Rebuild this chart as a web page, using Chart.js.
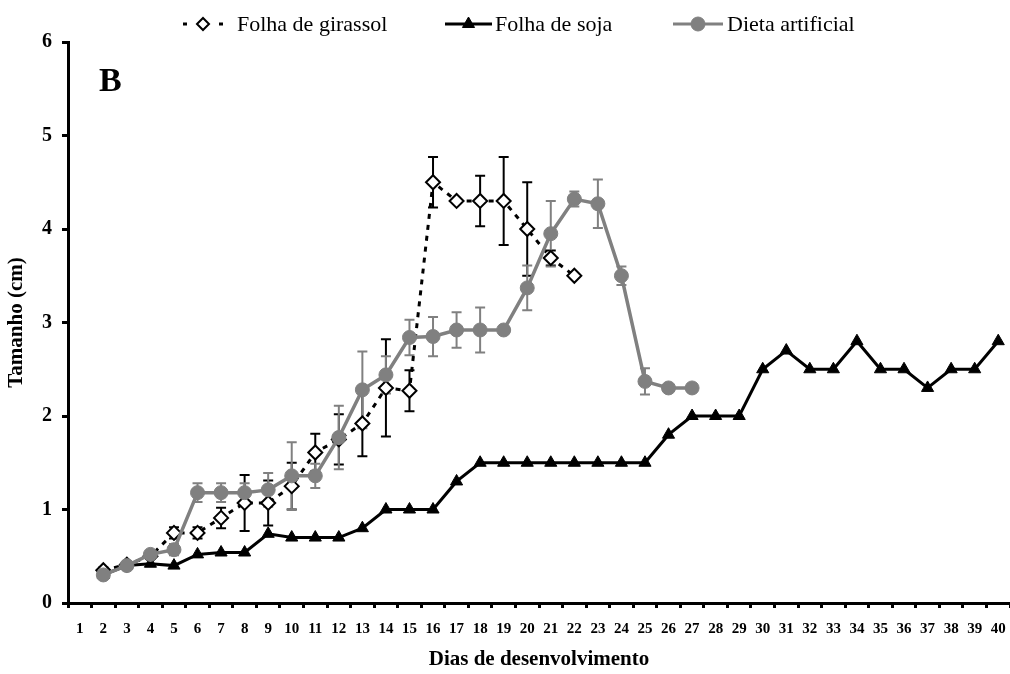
<!DOCTYPE html>
<html>
<head>
<meta charset="utf-8">
<script src="https://cdn.jsdelivr.net/npm/chart.js@4.4.0/dist/chart.umd.min.js"></script>
<style>
  html, body { margin: 0; padding: 0; background: #fff; }
  #wrap { width: 1010px; height: 674px; }
</style>
</head>
<body>
<div id="wrap"><canvas id="growthChart" width="1010" height="674"></canvas></div>
<script>
// Tamanho das larvas por dia de desenvolvimento

const days = [];
for (let d = 1; d <= 40; d++) days.push(String(d));

const yTicks = [0, 1, 2, 3, 4, 5, 6];

// day 1 has no value in any series
const girassol = [null, 0.35, 0.41, 0.5, 0.75, 0.75, 0.91, 1.07, 1.07, 1.25,
  1.61, 1.75, 1.92, 2.3, 2.27, 4.5, 4.3, 4.3, 4.3, 4.0, 3.69, 3.5];
const girassolErr = [null, 0.03, 0.03, 0.03, 0.06, 0.06, 0.11, 0.3, 0.24, 0.25,
  0.2, 0.27, 0.35, 0.52, 0.22, 0.27, 0, 0.27, 0.47, 0.5, 0.08, 0];

const soja = [null, 0.3, 0.4, 0.42, 0.4, 0.52, 0.54, 0.54, 0.74, 0.7,
  0.7, 0.7, 0.8, 1.0, 1.0, 1.0, 1.3, 1.5, 1.5, 1.5,
  1.5, 1.5, 1.5, 1.5, 1.5, 1.8, 2.0, 2.0, 2.0, 2.5,
  2.7, 2.5, 2.5, 2.8, 2.5, 2.5, 2.3, 2.5, 2.5, 2.8];

const dieta = [null, 0.3, 0.4, 0.52, 0.57, 1.18, 1.18, 1.18, 1.21, 1.36,
  1.36, 1.77, 2.28, 2.44, 2.84, 2.85, 2.92, 2.92, 2.92, 3.37,
  3.95, 4.32, 4.27, 3.5, 2.37, 2.3, 2.3];
const dietaErr = [null, 0.03, 0.03, 0.03, 0.06, 0.1, 0.1, 0.1, 0.18, 0.36,
  0.13, 0.34, 0.41, 0.2, 0.19, 0.21, 0.19, 0.24, 0, 0.24,
  0.35, 0.08, 0.26, 0.1, 0.14, 0, 0];

const GRAY = "#808080";
const SERIF = "'Liberation Serif', 'Times New Roman', serif";

// error bars drawn behind the markers
const errorBars = {
  id: "errorBars",
  beforeDatasetsDraw(chart) {
    const ctx = chart.ctx;
    const yScale = chart.scales.y;
    chart.data.datasets.forEach((ds, i) => {
      if (!ds.errors) return;
      const meta = chart.getDatasetMeta(i);
      ctx.save();
      ctx.strokeStyle = ds.errorColor;
      ctx.lineWidth = 2;
      meta.data.forEach((pt, j) => {
        const v = ds.data[j];
        const e = ds.errors[j];
        if (v == null || !e) return;
        const top = yScale.getPixelForValue(v + e);
        const bot = yScale.getPixelForValue(v - e);
        ctx.beginPath();
        ctx.moveTo(pt.x, top); ctx.lineTo(pt.x, bot);
        ctx.moveTo(pt.x - 5, top); ctx.lineTo(pt.x + 5, top);
        ctx.moveTo(pt.x - 5, bot); ctx.lineTo(pt.x + 5, bot);
        ctx.stroke();
      });
      ctx.restore();
    });
  }
};

// legend with line + marker, and the panel letter
const topLegend = {
  id: "topLegend",
  afterDraw(chart) {
    const ctx = chart.ctx;
    const items = [
      { ds: 0, x0: 183, x1: 223, tx: 237, dash: [4, 32] },
      { ds: 1, x0: 445, x1: 492, tx: 495 },
      { ds: 2, x0: 673, x1: 723, tx: 727 }
    ];
    const y = 24;
    ctx.save();
    items.forEach(it => {
      const ds = chart.data.datasets[it.ds];
      ctx.strokeStyle = ds.borderColor;
      ctx.lineWidth = 3;
      ctx.setLineDash(it.dash || []);
      ctx.beginPath();
      ctx.moveTo(it.x0, y); ctx.lineTo(it.x1, y);
      ctx.stroke();
      ctx.setLineDash([]);
      ctx.fillStyle = ds.pointBackgroundColor;
      ctx.strokeStyle = ds.pointBorderColor;
      ctx.lineWidth = ds.pointBorderWidth;
      Chart.helpers.drawPoint(ctx, {
        pointStyle: ds.pointStyle,
        radius: it.ds === 0 ? 6 : ds.pointRadius,
        borderWidth: ds.pointBorderWidth
      }, (it.x0 + it.x1) / 2, y);
      ctx.fillStyle = "#000";
      ctx.font = "22px " + SERIF;
      ctx.textBaseline = "middle";
      ctx.fillText(ds.label, it.tx, y + 1);
    });
    ctx.font = "bold 34px " + SERIF;
    ctx.textBaseline = "middle";
    ctx.fillStyle = "#000";
    ctx.fillText("B", 99, 82);
    ctx.restore();
  }
};

new Chart(document.getElementById("growthChart"), {
  type: "line",
  data: {
    labels: days,
    datasets: [
      {
        label: "Folha de girassol",
        data: girassol,
        errors: girassolErr,
        errorColor: "#000",
        borderColor: "#000",
        borderWidth: 3,
        borderDash: [5, 6],
        pointStyle: "rectRot",
        pointRadius: 7,
        pointBorderWidth: 2,
        pointBackgroundColor: "#fff",
        pointBorderColor: "#000",
        order: 1
      },
      {
        label: "Folha de soja",
        data: soja,
        borderColor: "#000",
        borderWidth: 3,
        pointStyle: "triangle",
        pointRadius: 7,
        pointBorderWidth: 1,
        pointBackgroundColor: "#000",
        pointBorderColor: "#000",
        order: 2
      },
      {
        label: "Dieta artificial",
        data: dieta,
        errors: dietaErr,
        errorColor: GRAY,
        borderColor: GRAY,
        borderWidth: 3.5,
        pointStyle: "circle",
        pointRadius: 7,
        pointBorderWidth: 1,
        pointBackgroundColor: GRAY,
        pointBorderColor: GRAY,
        order: 0
      }
    ]
  },
  options: {
    responsive: false,
    animation: false,
    layout: { autoPadding: false, padding: { top: 42, right: -2, left: 0, bottom: 0 } },
    plugins: {
      legend: { display: false },
      tooltip: { enabled: false }
    },
    scales: {
      x: {
        offset: true,
        afterFit(scale) {
          scale.height = 71;
          scale.paddingLeft = 0;
          scale.paddingRight = 0;
        },
        border: { color: "#000", width: 3 },
        grid: { offset: true, drawOnChartArea: false, tickLength: 5, tickColor: "#000", tickWidth: 3 },
        ticks: {
          color: "#000",
          font: { family: SERIF, size: 15, weight: "bold" },
          maxRotation: 0,
          autoSkip: false,
          padding: 12
        },
        title: {
          display: true,
          text: "Dias de desenvolvimento",
          color: "#000",
          font: { family: SERIF, size: 21, weight: "bold" },
          padding: { top: 0, bottom: 2 }
        }
      },
      y: {
        min: 0,
        max: 6,
        afterFit(scale) { scale.width = 68; },
        afterBuildTicks(scale) { scale.ticks = yTicks.map(v => ({ value: v })); },
        border: { color: "#000", width: 3 },
        grid: { drawOnChartArea: false, tickLength: 6, tickColor: "#000", tickWidth: 3 },
        ticks: {
          color: "#000",
          font: { family: SERIF, size: 20, weight: "bold" },
          padding: 10
        },
        title: {
          display: true,
          text: "Tamanho (cm)",
          color: "#000",
          font: { family: SERIF, size: 21, weight: "bold" },
          padding: { top: 4, bottom: 0 }
        }
      }
    }
  },
  plugins: [errorBars, topLegend]
});
</script>
</body>
</html>
